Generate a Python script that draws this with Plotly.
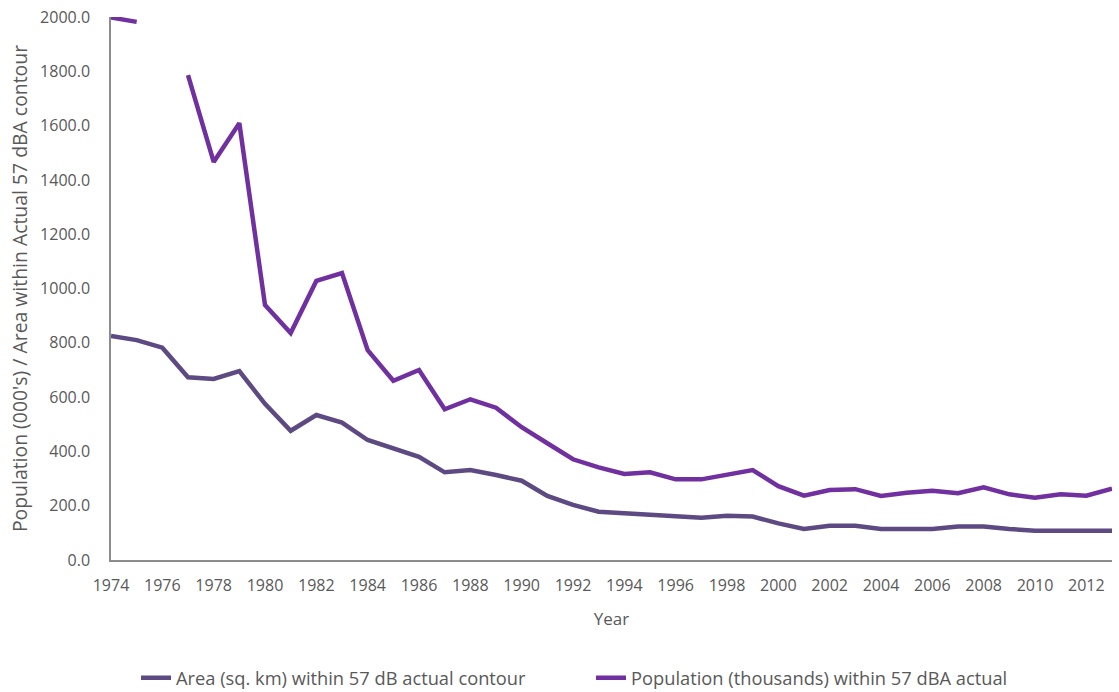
import plotly.graph_objects as go

years = list(range(1974, 2014))

area = [825, 810, 782, 673, 667, 696, 575, 476, 534, 506,
        442, 412, 380, 323, 331, 313, 292, 236, 203, 178,
        172, 166, 160, 156, 163, 160, 135, 114, 126, 126,
        114, 114, 114, 123, 123, 114, 108, 108, 108, 108]

population = [1998, 1982, None, 1786, 1466, 1609, 939, 836, 1028, 1057,
              773, 660, 700, 555, 592, 561, 489, 430, 371, 341,
              317, 323, 297, 297, 313, 331, 272, 237, 258, 261,
              236, 248, 255, 246, 268, 242, 229, 242, 237, 263]

area_name = "Area (sq. km) within 57 dB actual contour"
pop_name = "Population (thousands) within 57 dBA actual"
x_title = "Year"
y_title = "Population (000's) / Area within Actual 57 dBA contour"

fig = go.Figure()
fig.add_trace(go.Scatter(x=years, y=area, mode="lines", name=area_name,
                         line=dict(color="#5E4A82", width=4.5)))
fig.add_trace(go.Scatter(x=years, y=population, mode="lines", name=pop_name,
                         line=dict(color="#7030A0", width=4.5),
                         connectgaps=False))

font_col = "#595959"
fig.update_layout(
    width=1119, height=692,
    margin=dict(l=111, r=7, t=17, b=132, autoexpand=False),
    paper_bgcolor="white", plot_bgcolor="white",
    font=dict(family="Open Sans, Noto Sans, sans-serif", size=16, color=font_col),
    showlegend=True,
    legend=dict(orientation="h", x=0.025, xanchor="left", y=-0.217, yanchor="middle",
                font=dict(size=18.3, color=font_col), itemwidth=30,
                entrywidth=410, entrywidthmode="pixels",
                traceorder="normal"),
    xaxis=dict(range=[1974, 2013], tick0=1974, dtick=2, showgrid=False,
               showline=True, linecolor="#8C8C8C", linewidth=1.5,
               ticks="", zeroline=False, ticklabelstandoff=10, automargin=False,
               title=dict(text=x_title, font=dict(size=17, color=font_col), standoff=18),
               tickfont=dict(size=16, color=font_col)),
    yaxis=dict(range=[0, 2000], dtick=200, tickformat=".1f", showgrid=False,
               showline=True, linecolor="#8C8C8C", linewidth=1.5,
               ticks="", zeroline=False, ticklabelstandoff=16, automargin=False,
               title=dict(text=y_title, font=dict(size=19.4, color=font_col), standoff=7),
               tickfont=dict(size=16, color=font_col)),
)

fig.write_html("out.html")
